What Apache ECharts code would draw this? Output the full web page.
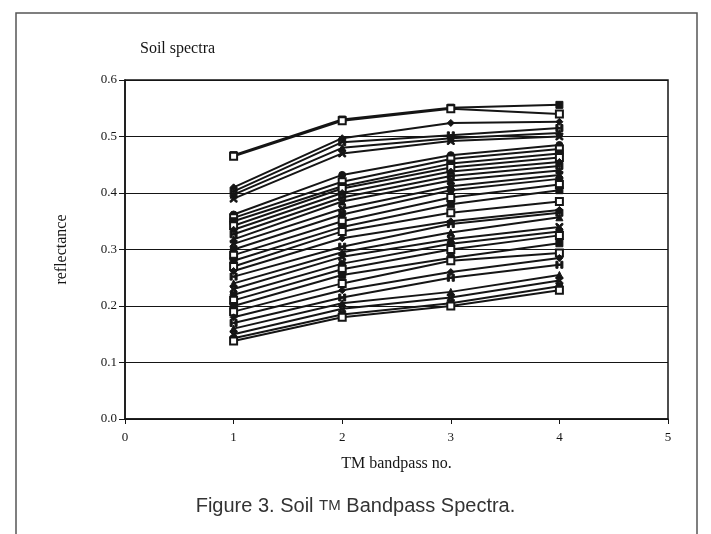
<!DOCTYPE html>
<html>
<head>
<meta charset="utf-8">
<style>
  html, body { margin: 0; padding: 0; background: #fff; }
  #chart { width: 711px; height: 534px; }
</style>
<script src="https://cdn.jsdelivr.net/npm/echarts@6/dist/echarts.min.js"></script>
</head>
<body>
<div id="chart"></div>
<script>
// TM bands on the x axis
const bands = [1, 2, 3, 4];
const xTicks = [0, 1, 2, 3, 4, 5];
const yTicks = [0.0, 0.1, 0.2, 0.3, 0.4, 0.5, 0.6];

// reflectance of each soil sample (band 1..4)
const soil01 = [0.467, 0.530, 0.551, 0.556];
const soil02 = [0.465, 0.528, 0.549, 0.540];
const soil03 = [0.410, 0.497, 0.524, 0.526];
const soil04 = [0.403, 0.490, 0.502, 0.515];
const soil05 = [0.397, 0.480, 0.497, 0.506];
const soil06 = [0.390, 0.470, 0.492, 0.500];
const soil07 = [0.362, 0.432, 0.467, 0.485];
const soil08 = [0.356, 0.420, 0.460, 0.478];
const soil09 = [0.350, 0.412, 0.452, 0.470];
const soil10 = [0.342, 0.408, 0.445, 0.463];
const soil11 = [0.335, 0.400, 0.438, 0.455];
const soil12 = [0.327, 0.392, 0.430, 0.448];
const soil13 = [0.318, 0.385, 0.422, 0.440];
const soil14 = [0.310, 0.372, 0.412, 0.432];
const soil15 = [0.300, 0.362, 0.405, 0.425];
const soil16 = [0.290, 0.350, 0.392, 0.415];
const soil17 = [0.280, 0.340, 0.380, 0.405];
const soil18 = [0.270, 0.332, 0.365, 0.385];
const soil19 = [0.262, 0.320, 0.350, 0.370];
const soil20 = [0.252, 0.305, 0.345, 0.365];
const soil21 = [0.240, 0.295, 0.330, 0.357];
const soil22 = [0.230, 0.287, 0.318, 0.340];
const soil23 = [0.220, 0.275, 0.310, 0.332];
const soil24 = [0.210, 0.265, 0.300, 0.325];
const soil25 = [0.200, 0.255, 0.285, 0.311];
const soil26 = [0.190, 0.240, 0.280, 0.294];
const soil27 = [0.180, 0.228, 0.260, 0.285];
const soil28 = [0.170, 0.215, 0.250, 0.273];
const soil29 = [0.160, 0.205, 0.225, 0.255];
const soil30 = [0.150, 0.195, 0.215, 0.245];
const soil31 = [0.143, 0.185, 0.205, 0.235];
const soil32 = [0.138, 0.180, 0.200, 0.228];

const samples = [
  soil01, soil02, soil03, soil04, soil05, soil06, soil07, soil08,
  soil09, soil10, soil11, soil12, soil13, soil14, soil15, soil16,
  soil17, soil18, soil19, soil20, soil21, soil22, soil23, soil24,
  soil25, soil26, soil27, soil28, soil29, soil30, soil31, soil32
];

const serif = "'Liberation Serif', 'DejaVu Serif', serif";
const ink = "#151515";
const crossPath = "path://M0,0L2,0L5,3L8,0L10,0L10,2L7,5L10,8L10,10L8,10L5,7L2,10L0,10L0,8L3,5L0,2Z";
const hPath = "path://M0,0L3,0L3,4L7,4L7,0L10,0L10,10L7,10L7,6L3,6L3,10L0,10Z";
const symbols = ["rect", "emptyRect", "diamond", hPath, "triangle", crossPath, "circle", "emptyRect"];

const chart = echarts.init(document.getElementById("chart"));

chart.setOption({
  animation: false,
  backgroundColor: "#fff",
  title: {
    text: "Soil spectra",
    left: 135,
    top: 36,
    textStyle: { fontFamily: serif, fontSize: 16, fontWeight: "normal", color: ink }
  },
  grid: {
    left: 125,
    right: 43,
    top: 80,
    bottom: 115,
    show: true,
    borderColor: ink,
    borderWidth: 1.5
  },
  xAxis: {
    type: "value",
    min: 0,
    max: 5,
    interval: 1,
    name: "TM bandpass no.",
    nameLocation: "middle",
    nameGap: 37,
    nameTextStyle: { fontFamily: serif, fontSize: 16, color: ink },
    axisLine: { lineStyle: { color: ink, width: 1.5 } },
    axisTick: { length: 5, lineStyle: { color: ink } },
    axisLabel: { fontFamily: serif, fontSize: 13, color: ink, margin: 12 },
    splitLine: { show: false }
  },
  yAxis: {
    type: "value",
    min: 0,
    max: 0.6,
    interval: 0.1,
    name: "reflectance",
    nameLocation: "middle",
    nameGap: 55,
    nameTextStyle: { fontFamily: serif, fontSize: 16, color: ink },
    axisLine: { show: true, lineStyle: { color: ink, width: 1.5 } },
    axisTick: { show: true, length: 6, lineStyle: { color: ink } },
    axisLabel: {
      fontFamily: serif, fontSize: 13, color: ink, margin: 8,
      formatter: (v) => v.toFixed(1)
    },
    splitLine: { lineStyle: { color: ink, width: 1.2 } }
  },
  graphic: [
    {
      type: "rect",
      shape: { x: 16, y: 13, width: 681, height: 540 },
      style: { fill: "none", stroke: "#555", lineWidth: 1.5 },
      silent: true
    },
    {
      type: "text",
      left: "center",
      top: 496,
      style: {
        text: "{a|Figure 3. Soil }{b|TM}{a| Bandpass Spectra.}",
        rich: {
          a: { fontFamily: "'Liberation Sans', Arial, sans-serif", fontSize: 20, fill: "#333" },
          b: { fontFamily: "'Liberation Sans', Arial, sans-serif", fontSize: 15, fill: "#333" }
        }
      }
    }
  ],
  series: samples.map((vals, i) => ({
    name: "soil " + (i + 1),
    type: "line",
    data: bands.map((b, j) => [b, vals[j]]),
    symbol: symbols[i % symbols.length],
    symbolSize: 7,
    showSymbol: true,
    lineStyle: { color: ink, width: 2 },
    itemStyle: { color: ink, borderColor: ink, borderWidth: 1 },
    z: 3
  }))
});

window.addEventListener("resize", () => chart.resize());
</script>
</body>
</html>
